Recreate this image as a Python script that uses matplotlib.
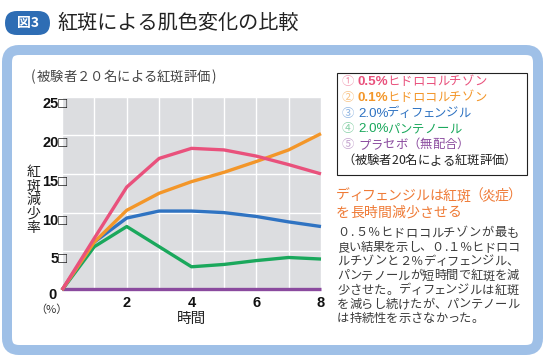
import unicodedata
import matplotlib
matplotlib.use("Agg")
import matplotlib.pyplot as plt
from matplotlib.patches import FancyBboxPatch, Rectangle
from matplotlib.ticker import MultipleLocator
from matplotlib.transforms import ScaledTranslation

plt.rcParams['font.family'] = ['Noto Sans CJK JP', 'DejaVu Sans']

# ---------------- data ----------------
hours = [0, 1, 2, 3, 4, 5, 6, 7, 8]
hc05 = [0, 6.7, 13.3, 17.0, 18.3, 18.1, 17.3, 16.2, 15.0]      # 0.5% ヒドロコルチゾン
hc01 = [0, 6.2, 10.3, 12.5, 14.0, 15.2, 16.6, 18.1, 20.2]      # 0.1% ヒドロコルチゾン
difen = [0, 6.2, 9.3, 10.2, 10.2, 10.0, 9.5, 8.8, 8.2]         # 2.0% ディフェンジル
panth = [0, 5.6, 8.2, 5.6, 3.0, 3.3, 3.8, 4.2, 4.0]            # 2.0% パンテノール
placebo = [0.1, 0.1, 0.1, 0.1, 0.1, 0.1, 0.1, 0.1, 0.1]        # プラセボ

series = [hc05, hc01, difen, panth, placebo]
series_heads = ["0.5%", "0.1%", "2.0%", "2.0%", ""]
series_names = ["ヒドロコルチゾン", "ヒドロコルチゾン", "ディフェンジル", "パンテノール", "プラセボ（無配合）"]
series_nums = ["①", "②", "③", "④", "⑤"]
colors = ["#e9517c", "#f39629", "#2f73c2", "#1aa85c", "#8a4a9e"]
light_colors = ["#f3a3b9", "#f8c487", "#8fb5e2", "#86d0a6", "#c3a2cd"]

yticks = [0, 5, 10, 15, 20, 25]
ytick_labels = ["0\u2007", "5□", "10□", "15□", "20□", "25□"]
xticks = [2, 4, 6, 8]
xtick_labels = ["2", "4", "6", "8"]

title = "紅斑による肌色変化の比較"
badge = "図3"
subtitle = "(被験者２０名による紅斑評価)"
ylabel = "紅\n斑\n減\n少\n率"
xlabel = "時間"
unit = "（%）"
legend_note = "（被験者20名による紅斑評価）"
heading = ["ディフェンジルは紅斑（炎症）", "を長時間減少させる"]
body = ["０.５％ヒドロコルチゾンが最も",
        "良い結果を示し、０.１％ヒドロコ",
        "ルチゾンと２％ディフェンジル、",
        "パンテノールが短時間で紅斑を減",
        "少させた。ディフェンジルは紅斑",
        "を減らし続けたが、パンテノール",
        "は持続性を示さなかった。"]

# ---------------- figure ----------------
W, H = 547, 360
fig = plt.figure(figsize=(W / 100, H / 100), dpi=100)

bg = fig.add_axes([0, 0, 1, 1])
bg.set_xlim(0, W)
bg.set_ylim(H, 0)
bg.axis('off')
bg.set_zorder(0)

SMALL = set("ァィゥェォャュョ")
LIB_W = {'.': 0.278, '%': 0.889}


def jtext(x, ycen, s, size, color, paren=1.0, small=0.85, half=0.45, width=None, **kw):
    """Japanese text set on a character pitch (px coords); optional justification."""
    em = size * 100 / 72
    advs = []
    for ch in s:
        if ch in SMALL:
            w = small * em
        elif ch in "（）()":
            w = paren * em
        elif unicodedata.east_asian_width(ch) in ("W", "F"):
            w = em
        elif ch == '.':
            w = 0.4 * em
        else:
            w = half * em
        advs.append(w)
    if width is not None:
        k = width / sum(advs)
        advs = [a * k for a in advs]
    cx = x
    base = ycen + 0.36 * em
    for ch, w in zip(s, advs):
        bg.text(cx + w / 2, base, ch, fontsize=size, color=color,
                ha='center', va='baseline', **kw)
        cx += w
    return cx


# title badge
bg.add_patch(FancyBboxPatch((5, 11), 45, 24, boxstyle="round,pad=0,rounding_size=12",
                            fc="#2e6db4", ec="none"))
bg.text(27.5, 23, badge, color="white", fontsize=10, fontweight="bold",
        ha="center", va="center")
bg.text(57, 23, title, color="#222222", fontsize=14.5, ha="left", va="center")

# panel
bg.add_patch(FancyBboxPatch((7, 50), 531, 300, boxstyle="round,pad=0,rounding_size=12",
                            fc="white", ec="#9fc0e7", lw=7.2))

# subtitle / labels
jtext(30, 76, subtitle, 9.6, "#444444", paren=0.5)
bg.text(33, 200, ylabel, color="#222222", fontsize=10, ha="center", va="center",
        linespacing=1.0)
bg.text(51, 310, unit, color="#333333", fontsize=8, ha="center", va="center")
bg.text(192, 319, xlabel, color="#222222", fontsize=10.5, ha="center", va="center")

# legend box
bg.add_patch(Rectangle((337, 73), 190, 102, fc="white", ec="#222222", lw=0.8))
leg_y0, leg_dy = 80.5, 15.8
leg_size = 8.9
for i, (num, hd, nm, c, lc) in enumerate(zip(series_nums, series_heads, series_names,
                                              colors, light_colors)):
    y = leg_y0 + i * leg_dy
    bg.text(348, y + 0.36 * leg_size * 100 / 72, num, color=lc, fontsize=leg_size,
            ha="center", va="baseline")
    x = 358
    if hd:
        hs = 9.6
        hem = hs * 100 / 72
        bg.text(x, y + 0.36 * leg_size * 100 / 72, hd, color=c, fontsize=hs,
                fontweight="bold" if i < 2 else "normal", ha="left", va="baseline",
                family=['Liberation Sans', 'DejaVu Sans'])
        x += sum(LIB_W.get(ch, 0.556) for ch in hd) * hem - 1.0
    jtext(x, y, nm, leg_size, c, paren=1.0)
jtext(342, leg_y0 + 5 * leg_dy, legend_note, leg_size, "#222222", paren=1.0, half=0.55)

# heading & body
for i, line in enumerate(heading):
    jtext(336, 195 + i * 16.5, line, 10.0, "#ef7b37", paren=0.75)
for i, line in enumerate(body):
    jtext(337, 232 + i * 14.3, line, 8.8, "#3a3a3a",
          width=182 if i < len(body) - 1 else None)

# ---------------- main axes ----------------
ax = fig.add_axes([62 / W, 1 - 290 / H, 259 / W, 193.5 / H])
ax.set_zorder(1)
ax.set_facecolor("#dcdde0")
for s in ax.spines.values():
    s.set_visible(False)
ax.set_xlim(0, 8)
ax.set_ylim(0, 25)

ax.xaxis.set_minor_locator(MultipleLocator(1))
ax.grid(True, which="both", axis="x", color="white", lw=1.0)
ax.grid(True, which="major", axis="y", color="white", lw=1.0)
ax.set_axisbelow(True)

order = [4, 3, 2, 1, 0]
for j in order:
    ax.plot(hours, series[j], color=colors[j], lw=2.4, solid_capstyle="butt",
            solid_joinstyle="round", clip_on=False, zorder=3)

ax.set_yticks(yticks)
ax.set_yticklabels(ytick_labels)
ax.set_xticks(xticks)
ax.set_xticklabels(xtick_labels)
ax.tick_params(axis="both", which="both", length=0)
ax.tick_params(axis="y", pad=-4)
ax.tick_params(axis="x", pad=4)
for n, lab in enumerate(ax.get_yticklabels()):
    lab.set_family(['Liberation Sans', 'Noto Sans CJK JP'])
    lab.set_fontweight("bold")
    lab.set_fontsize(10.5)
    lab.set_color("#111111")
    dx = -0.02 if n == 0 else 0.0
    dy = -0.035 if n == 0 else -0.065
    lab.set_transform(lab.get_transform() + ScaledTranslation(dx, dy, fig.dpi_scale_trans))
for lab in ax.get_xticklabels():
    lab.set_family(['Liberation Sans', 'Noto Sans CJK JP'])
    lab.set_fontweight("bold")
    lab.set_fontsize(10.5)
    lab.set_color("#111111")

fig.savefig("out.png", dpi=100)
